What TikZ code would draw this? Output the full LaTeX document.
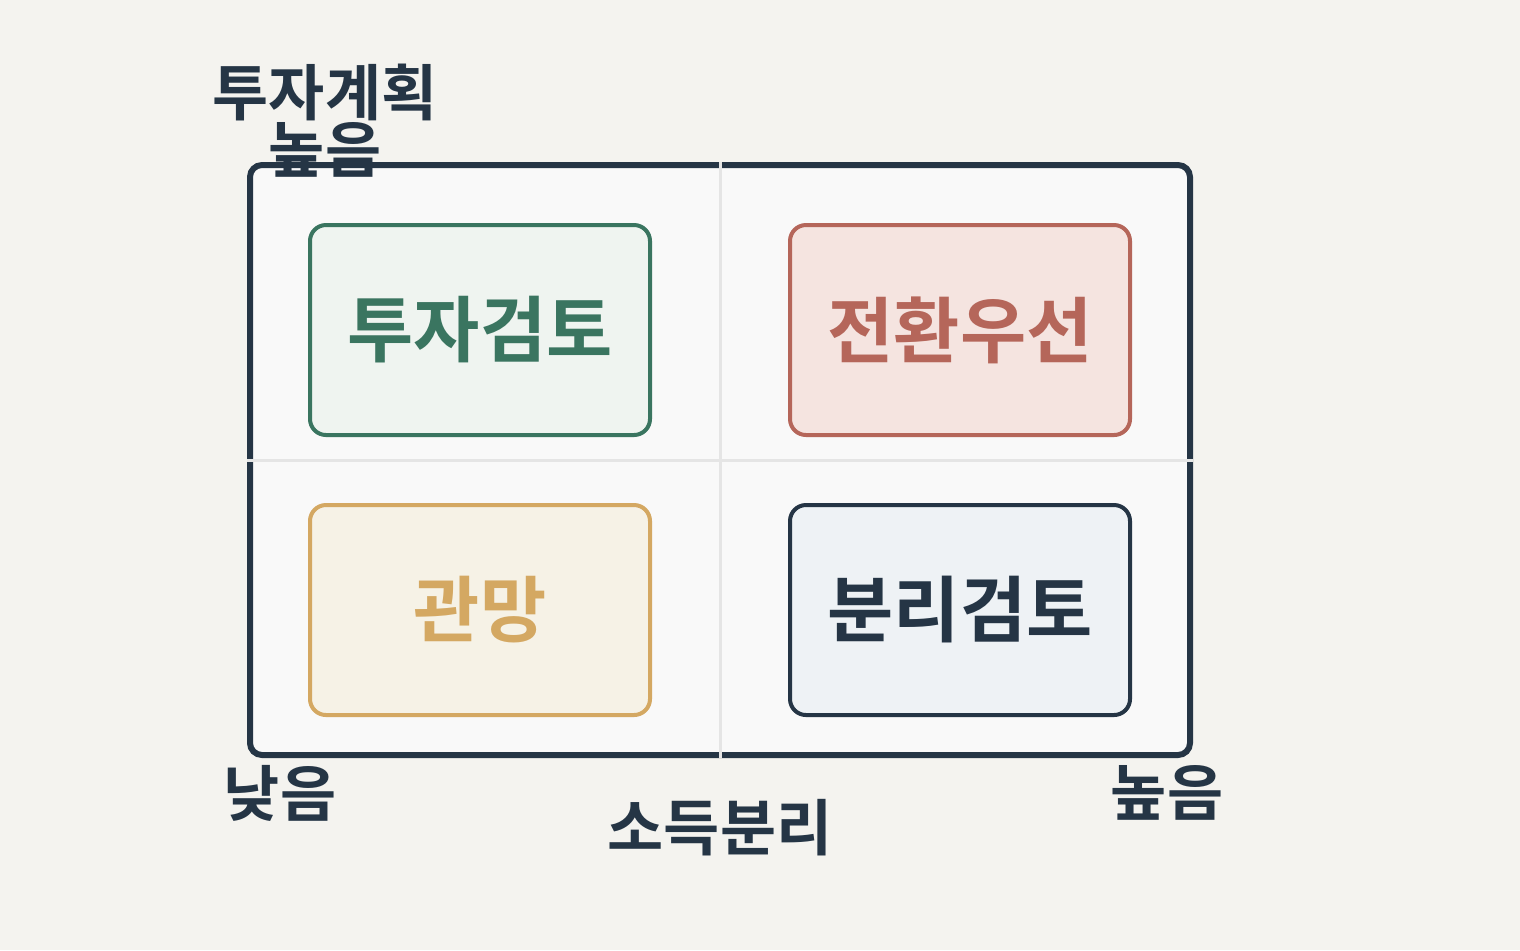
\documentclass[tikz,border=0pt]{standalone}
\usepackage{fontspec}
\setmainfont{Noto Sans CJK KR}[BoldFont={Noto Sans CJK KR Bold}]
\begin{document}
\definecolor{bg}{HTML}{F4F3EF}
\definecolor{navy}{HTML}{253545}
\definecolor{gr}{HTML}{3A7560}\definecolor{grf}{HTML}{EFF4F0}
\definecolor{rd}{HTML}{B5665A}\definecolor{rdf}{HTML}{F5E4E0}
\definecolor{gd}{HTML}{D4A862}\definecolor{gdf}{HTML}{F6F2E6}
\definecolor{nvf}{HTML}{EEF2F5}
\definecolor{frf}{HTML}{F9F9F9}
\begin{tikzpicture}[x=0.5pt,y=-0.5pt,
 quad/.style={draw, line width=2pt, rounded corners=8pt, minimum width=170pt, minimum height=105pt, font=\bfseries\fontsize{36}{38}\selectfont},
 lbl/.style={text=navy, font=\bfseries\fontsize{30.5}{32}\selectfont, inner sep=0pt}]
\fill[bg] (0,0) rectangle (1520,950);
\useasboundingbox (0,0) rectangle (1520,950);
\node[draw=navy, line width=3pt, fill=frf, rounded corners=6pt, minimum width=470pt, minimum height=295pt] (frame) at (720,460) {};
\draw[black!10, line width=1.5pt] (frame.north) -- (frame.south);
\draw[black!10, line width=1.5pt] (frame.west) -- (frame.east);
\node[quad, draw=gr, fill=grf, text=gr] (tl) at (480,330) {투자검토};
\node[quad, draw=rd, fill=rdf, text=rd] (tr) at (960,330) {전환우선};
\node[quad, draw=gd, fill=gdf, text=gd] (bl) at (480,610) {관망};
\node[quad, draw=navy, fill=nvf, text=navy] (br) at (960,610) {분리검토};
\node[lbl] (ya) at (325,92) {투자계획};
\node[lbl] (yh) at (325,150) {높음};
\node[lbl] (xl) at (280,793) {낮음};
\node[lbl] (xh) at (1167,793) {높음};
\node[lbl] (xa) at (720,828) {소득분리};
\end{tikzpicture}
\end{document}
